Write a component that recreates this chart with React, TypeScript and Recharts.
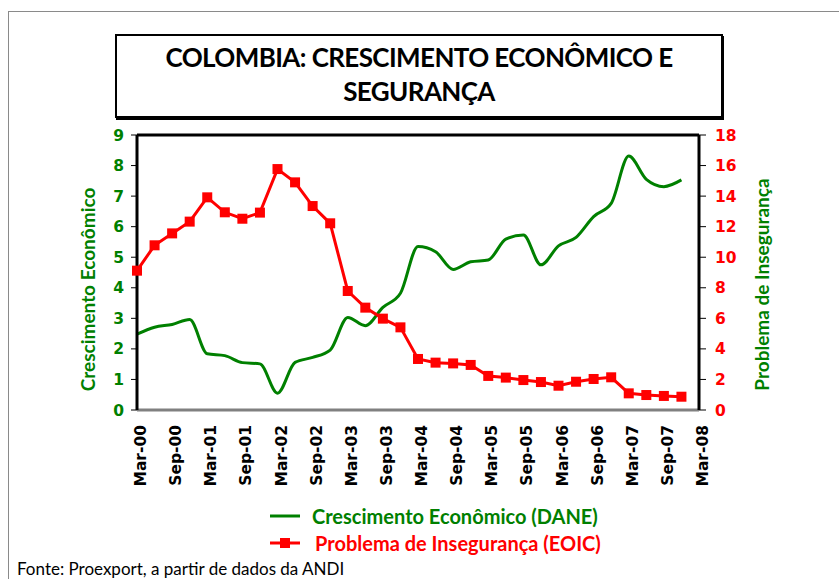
import React from "react";
import {
  ComposedChart,
  Line,
  XAxis,
  YAxis,
  ReferenceLine,
  Legend,
} from "recharts";

const quarters = [
  "Mar-00", "Jun-00", "Sep-00", "Dec-00",
  "Mar-01", "Jun-01", "Sep-01", "Dec-01",
  "Mar-02", "Jun-02", "Sep-02", "Dec-02",
  "Mar-03", "Jun-03", "Sep-03", "Dec-03",
  "Mar-04", "Jun-04", "Sep-04", "Dec-04",
  "Mar-05", "Jun-05", "Sep-05", "Dec-05",
  "Mar-06", "Jun-06", "Sep-06", "Dec-06",
  "Mar-07", "Jun-07", "Sep-07", "Dec-07",
];

const crescimento = [
  2.48, 2.71, 2.8, 2.96, 1.84, 1.78, 1.55, 1.51,
  0.55, 1.56, 1.72, 1.96, 3.03, 2.76, 3.36, 3.82,
  5.35, 5.18, 4.6, 4.85, 4.91, 5.59, 5.73, 4.75,
  5.37, 5.65, 6.33, 6.76, 8.31, 7.55, 7.31, 7.53,
];

const inseguranca = [
  9.12, 10.78, 11.56, 12.33, 13.92, 12.94, 12.52, 12.92,
  15.77, 14.9, 13.35, 12.22, 7.79, 6.7, 5.98, 5.41,
  3.34, 3.1, 3.05, 2.95, 2.23, 2.12, 1.96, 1.83,
  1.59, 1.85, 2.03, 2.14, 1.09, 0.98, 0.92, 0.87,
];

const tickLabels = [
  "Mar-00", "Sep-00", "Mar-01", "Sep-01", "Mar-02", "Sep-02",
  "Mar-03", "Sep-03", "Mar-04", "Sep-04", "Mar-05", "Sep-05",
  "Mar-06", "Sep-06", "Mar-07", "Sep-07", "Mar-08",
];

const leftTicks = [0, 1, 2, 3, 4, 5, 6, 7, 8, 9];
const rightTicks = [0, 2, 4, 6, 8, 10, 12, 14, 16, 18];

const GREEN = "#008000";
const RED = "#ff0000";
const CALIBRI = "Lato, 'Open Sans', sans-serif";
const VERDANA = "'DejaVu Sans', Verdana, sans-serif";

const data = quarters.map((q, i) => ({
  i,
  quarter: q,
  crescimento: crescimento[i],
  inseguranca: inseguranca[i],
}));

const XTick = ({ x, y, payload }: any) => (
  <text
    transform={`translate(${x + 9},${y + 15}) rotate(-90)`}
    textAnchor="end"
    fill="#000"
    fontFamily={VERDANA}
    fontWeight="bold"
    fontSize={15.5}
  >
    {tickLabels[payload.value / 2]}
  </text>
);

const SquareDot = ({ cx, cy }: any) =>
  cx == null || cy == null ? null : (
    <rect x={cx - 5} y={cy - 5} width={10} height={10} fill={RED} />
  );

const AxisTitle = ({ viewBox, value, dx, dy, color }: any) => {
  const x = viewBox.x + dx;
  const y = viewBox.y + viewBox.height / 2 + dy;
  return (
    <text
      transform={`translate(${x},${y}) rotate(-90)`}
      textAnchor="middle"
      fill={color}
      fontFamily={CALIBRI}
      fontWeight="bold"
      fontSize={19}
    >
      {value}
    </text>
  );
};

const LegendBox = () => (
  <div style={{ fontFamily: CALIBRI, fontWeight: "bold", fontSize: 20 }}>
    <div style={{ display: "flex", alignItems: "center", height: 27 }}>
      <svg width={46} height={20}>
        <line x1={4} x2={34} y1={10} y2={10} stroke={GREEN} strokeWidth={3} />
      </svg>
      <span style={{ color: GREEN }}>Crescimento Econômico (DANE)</span>
    </div>
    <div style={{ display: "flex", alignItems: "center", height: 27 }}>
      <svg width={49} height={20}>
        <line x1={4} x2={34} y1={10} y2={10} stroke={RED} strokeWidth={3} />
        <rect x={14} y={5} width={10} height={10} fill={RED} />
      </svg>
      <span style={{ color: RED }}>Problema de Insegurança (EOIC)</span>
    </div>
  </div>
);

export default function App() {
  return (
    <div
      style={{
        position: "absolute",
        left: 0,
        top: 0,
        width: 839,
        height: 579,
        overflow: "hidden",
        background: "#fff",
      }}
    >
      <div
        style={{
          position: "absolute",
          left: 8,
          top: 11,
          width: 900,
          height: 700,
          border: "1px solid #8a8a8a",
        }}
      />
      <div
        style={{
          position: "absolute",
          left: 115,
          top: 34,
          width: 604,
          height: 76,
          border: "2px solid #000",
          boxShadow: "1px 2px 0 #000",
          fontFamily: CALIBRI,
          fontWeight: "bold",
          fontSize: 26,
          letterSpacing: -0.6,
          lineHeight: "34px",
          textAlign: "center",
          paddingTop: 4,
          boxSizing: "content-box",
        }}
      >
        COLOMBIA: CRESCIMENTO ECONÔMICO E
        <br />
        SEGURANÇA
      </div>
      <div style={{ position: "absolute", left: 0, top: 0 }}>
        <ComposedChart
          width={839}
          height={579}
          data={data}
          margin={{ top: 135, right: 80, bottom: 89, left: 77 }}
        >
          <XAxis
            dataKey="i"
            type="number"
            domain={[0, 32]}
            ticks={[0, 2, 4, 6, 8, 10, 12, 14, 16, 18, 20, 22, 24, 26, 28, 30, 32]}
            tick={<XTick />}
            tickLine={false}
            tickSize={0}
            tickMargin={0}
            height={80}
            axisLine={{ stroke: "#808080", strokeWidth: 3 }}
            interval={0}
          />
          <YAxis
            yAxisId="left"
            orientation="left"
            domain={[0, 9]}
            ticks={leftTicks}
            width={60}
            tickSize={6}
            tickMargin={7}
            tickLine={{ stroke: "#000" }}
            axisLine={{ stroke: "#000", strokeWidth: 3 }}
            tick={{ fill: GREEN, fontFamily: VERDANA, fontWeight: "bold", fontSize: 15.5 }}
            label={
              <AxisTitle value="Crescimento Econômico" dx={18} dy={17} color={GREEN} />
            }
          />
          <YAxis
            yAxisId="right"
            orientation="right"
            domain={[0, 18]}
            ticks={rightTicks}
            width={60}
            tickSize={7}
            tickMargin={9}
            tickLine={{ stroke: "#000" }}
            axisLine={{ stroke: "#000", strokeWidth: 3 }}
            tick={{ fill: RED, fontFamily: VERDANA, fontWeight: "bold", fontSize: 15.5 }}
            label={
              <AxisTitle value="Problema de Insegurança" dx={70} dy={12} color={GREEN} />
            }
          />
          <ReferenceLine yAxisId="left" y={9} stroke="#000" strokeWidth={3} />
          <Line
            yAxisId="left"
            type="monotone"
            dataKey="crescimento"
            stroke={GREEN}
            strokeWidth={3}
            dot={false}
            isAnimationActive={false}
          />
          <Line
            yAxisId="right"
            type="linear"
            dataKey="inseguranca"
            stroke={RED}
            strokeWidth={3}
            dot={<SquareDot />}
            isAnimationActive={false}
          />
          <Legend
            layout="horizontal"
            verticalAlign="middle"
            align="center"
            content={<LegendBox />}
            wrapperStyle={{ position: "absolute", left: 266, top: 502, width: 400 }}
          />
        </ComposedChart>
      </div>
      <div
        style={{
          position: "absolute",
          left: 17,
          top: 559,
          fontFamily: CALIBRI,
          fontSize: 17,
          lineHeight: "20px",
          color: "#000",
          whiteSpace: "nowrap",
        }}
      >
        Fonte: Proexport, a partir de dados da ANDI
      </div>
    </div>
  );
}
